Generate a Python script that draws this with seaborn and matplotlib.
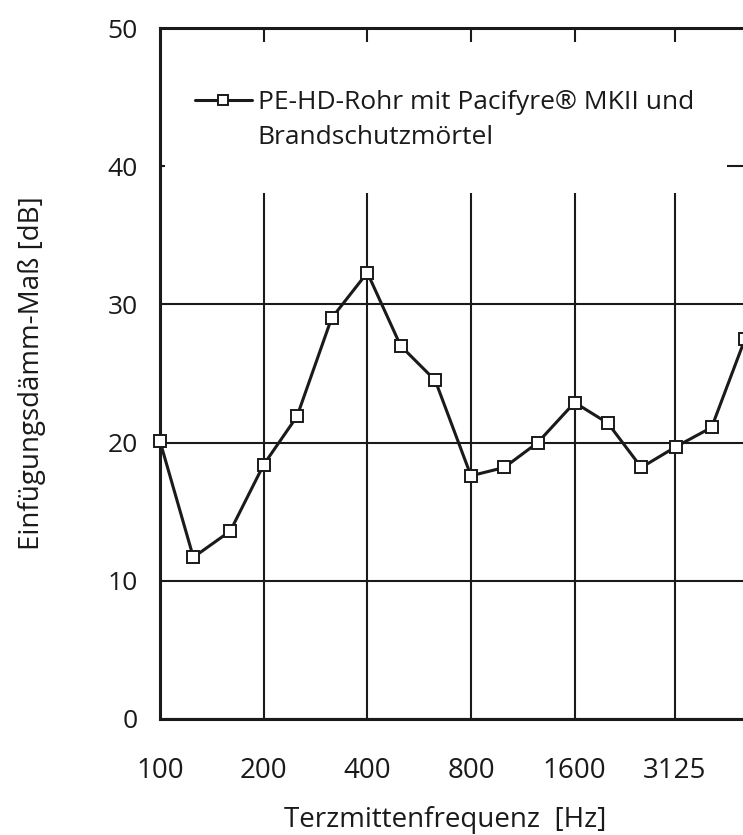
import matplotlib
matplotlib.use("Agg")
import matplotlib.pyplot as plt
import matplotlib.ticker as mticker
from matplotlib.patches import Rectangle
from matplotlib.lines import Line2D
import seaborn as sns
import pandas as pd

# ---- data ----
freqs = [100, 125, 160, 200, 250, 315, 400, 500, 630, 800, 1000, 1250,
         1600, 2000, 2500, 3150, 4000, 5000]
values = [20.1, 11.7, 13.6, 18.4, 21.9, 29.0, 32.3, 27.0, 24.5, 17.6, 18.2,
          20.0, 22.9, 21.4, 18.2, 19.7, 21.1, 27.5]
xtick_vals = [100, 200, 400, 800, 1600, 3125]
xtick_labels = ["100", "200", "400", "800", "1600", "3125"]
ytick_vals = [0, 10, 20, 30, 40, 50]
legend_lines = ["PE-HD-Rohr mit Pacifyre® MKII und", "Brandschutzmörtel"]
xlabel = "Terzmittenfrequenz  [Hz]"
ylabel = "Einfügungsdämm-Maß [dB]"

df = pd.DataFrame({"freq": freqs, "val": values})

sns.set_theme(style="white")
plt.rcParams["font.family"] = ["Open Sans", "DejaVu Sans"]
ink = "#1a1a1a"

W, H = 743, 835
fig = plt.figure(figsize=(W / 100, H / 100), dpi=100)
L, R, T, B = 160, 745, 28, 719
ax = fig.add_axes([L / W, (H - B) / H, (R - L) / W, (B - T) / H])

ax.set_xscale("log", base=2)
ax.set_xlim(100, 5000)
ax.set_ylim(0, 50)

# grid
ax.set_axisbelow(True)
ax.grid(True, color=ink, linewidth=1.5, zorder=0.5)

# white area behind legend (hides grid)
ax.add_patch(Rectangle((0.0085, 0.761), 0.969 - 0.0085, 0.9797 - 0.761,
                       transform=ax.transAxes, facecolor="white",
                       edgecolor="none", zorder=1))

sns.lineplot(data=df, x="freq", y="val", ax=ax, color=ink, linewidth=2.2,
             marker="s", markersize=8, markerfacecolor="white",
             markeredgecolor=ink, markeredgewidth=1.4, label=legend_lines[0],
             zorder=3, clip_on=False)

ax.xaxis.set_major_locator(mticker.FixedLocator(xtick_vals))
ax.xaxis.set_major_formatter(mticker.FixedFormatter(xtick_labels))
ax.xaxis.set_minor_locator(mticker.NullLocator())
ax.set_yticks(ytick_vals)
ax.tick_params(axis="x", length=0, pad=27, labelsize=20, labelcolor=ink)
ax.tick_params(axis="y", length=0, pad=16, labelsize=19, labelcolor=ink)

for s in ax.spines.values():
    s.set_color(ink)
    s.set_linewidth(2.2)

ax.set_xlabel(xlabel, fontsize=20, color=ink)
ax.set_ylabel(ylabel, fontsize=20, color=ink)
ax.xaxis.set_label_coords(0.488, -0.126)
ax.yaxis.set_label_coords(-0.195, 0.5)

h0 = ax.get_legend_handles_labels()[0][0]
blank = Line2D([], [], linestyle="none", marker=None, alpha=0)
leg = ax.legend([h0, blank], legend_lines,
                loc="upper left", bbox_to_anchor=((195 - L) / (R - L), (B - 90) / (B - T)),
                frameon=False, fontsize=19, handlelength=2.15, handletextpad=0.23,
                labelspacing=0.38, borderpad=0, borderaxespad=0)
for t in leg.get_texts():
    t.set_color(ink)
for h in leg.legend_handles:
    if hasattr(h, "set_markersize"):
        h.set_markersize(7)

fig.savefig("out.png", dpi=100)
